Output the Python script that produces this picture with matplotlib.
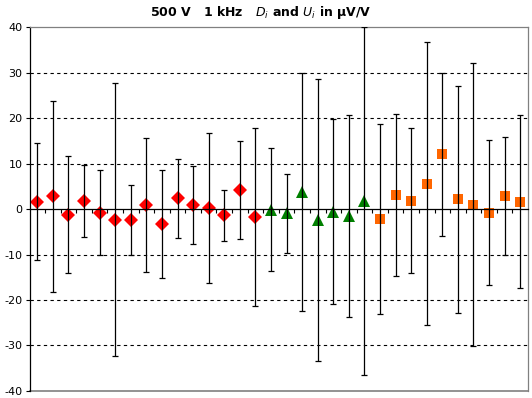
import numpy as np
import matplotlib
matplotlib.use('Agg')
import matplotlib.pyplot as plt

# D_i values and U_i (expanded uncertainties) in uV/V, three groups of labs
d_red = [1.6, 2.75, -1.25, 1.8, -0.85, -2.35, -2.4, 0.8, -3.3, 2.35, 0.9, 0.3, -1.4, 4.1, -1.8]
u_red = [12.8, 20.95, 12.85, 7.9, 9.35, 30.05, 7.6, 14.7, 11.9, 8.75, 8.6, 16.5, 5.6, 10.8, 19.5]
d_green = [-0.2, -0.95, 3.65, -2.45, -0.55, -1.5, 1.7]
u_green = [13.5, 8.75, 26.15, 31.05, 20.35, 22.2, 38.2]
d_orange = [-2.2, 3.05, 1.8, 5.55, 12.0, 2.1, 0.9, -0.85, 2.95, 1.6]
u_orange = [20.9, 17.85, 15.9, 31.05, 18.0, 25.0, 31.1, 15.95, 12.95, 19.0]

yticks = [-40, -30, -20, -10, 0, 10, 20, 30, 40]
title = "500 V   1 kHz   $\\mathit{D_i}$ and $\\mathit{U_i}$ in µV/V"

fig = plt.figure(figsize=(5.32, 3.98), dpi=100)
ax = fig.add_axes([0.0555, 0.0176, 0.937, 0.9145])

groups = [(d_red, u_red, 'D', '#ff0000', 7),
          (d_green, u_green, '^', '#008000', 8.5),
          (d_orange, u_orange, 's', '#ff6600', 7)]
start = 1
for d, u, m, c, ms in groups:
    x = np.arange(start, start + len(d))
    ax.plot(x, d, linestyle='none', marker=m, color=c, markersize=ms,
            markeredgewidth=0, zorder=2)
    ax.errorbar(x, d, yerr=u, fmt='none', ecolor='black', elinewidth=0.9,
                capsize=2.5, capthick=0.9, zorder=3)
    start += len(d)

n = start - 1
ax.set_xlim(0.5, n + 0.5)
ax.set_ylim(-40, 40)
ax.set_yticks(yticks)
ax.set_yticklabels([str(v) for v in yticks], fontsize=8)
ax.set_xticks(np.arange(1.5, n, 1.0))
ax.tick_params(axis='x', direction='out', length=3, width=0.8, labelbottom=False)
ax.tick_params(axis='y', direction='out', length=3, width=0.8, pad=2)

for v in [-30, -20, -10, 10, 20, 30]:
    ax.axhline(v, color='black', lw=0.8, ls=(0, (3, 3)), zorder=1)

ax.spines['bottom'].set_position(('data', 0))
ax.spines['bottom'].set_color('black')
ax.spines['left'].set_color('black')
ax.spines['top'].set_color('#808080')
ax.spines['right'].set_color('#808080')
for s in ax.spines.values():
    s.set_linewidth(0.9)
ax.axhline(-40, color='#808080', lw=1.2, clip_on=False, zorder=1)

fig.text(0.49, 0.968, title, ha='center', va='center', fontsize=9, fontweight='bold')

fig.savefig('out.png', dpi=100)
